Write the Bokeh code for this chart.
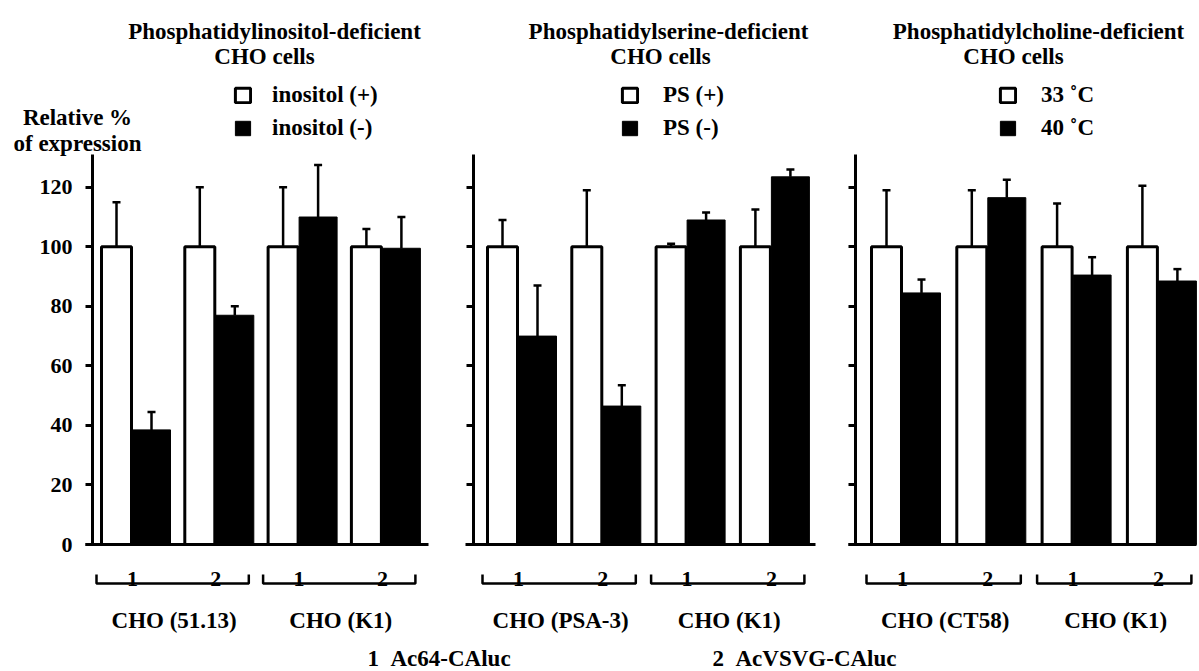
import numpy as np
from bokeh.plotting import figure
from bokeh.models import (Range1d, FixedTicker, Whisker, TeeHead, LinearAxis,
                          ColumnDataSource, Legend, LegendItem)
from bokeh.core.properties import value
from bokeh.embed import file_html
from bokeh.resources import INLINE

FONT = "Liberation Serif"

# ---------------- data ----------------
titles = [["Phosphatidylinositol-deficient", "CHO cells"],
          ["Phosphatidylserine-deficient", "CHO cells"],
          ["Phosphatidylcholine-deficient", "CHO cells"]]
legend_labels = [["inositol (+)", "inositol (-)"],
                 ["PS (+)", "PS (-)"],
                 ["33 \u02daC", "40 \u02daC"]]
groups = [["CHO (51.13)", "CHO (K1)"],
          ["CHO (PSA-3)", "CHO (K1)"],
          ["CHO (CT58)", "CHO (K1)"]]
constructs = ["1", "2", "1", "2"]
construct_names = ["1\u00a0\u00a0Ac64-CAluc", "2\u00a0\u00a0AcVSVG-CAluc"]
y_label = ["Relative %", "of expression"]
y_ticks = [0, 20, 40, 60, 80, 100, 120]

white_vals = [[100, 100, 100, 100], [100, 100, 100, 100], [100, 100, 100, 100]]
white_err_lo = [[14, 20, 18, 6], [9, 18, 1, 12.5], [18.5, 18, 14, 21]]
white_err_hi = [[15, 20, 20, 6], [9, 19, 1, 12.5], [19, 19, 14.5, 20.5]]
black_vals = [[38.5, 77, 110, 99.5], [70, 46.5, 109, 123.5], [84.5, 116.5, 90.5, 88.5]]
black_err = [[6, 3, 17.5, 10.5], [17, 7, 2.5, 2.5], [4.5, 6, 6, 4]]

# ---------------- layout (pixels) ----------------
W, H = 1199, 671
BASE_PX, TOP_PX, YMAX = 544, 154, 131
PX_PER_UNIT = (BASE_PX - TOP_PX) / YMAX


def ydat(py):
    return (BASE_PX - py) / PX_PER_UNIT


panel_origin = [132, 518, 902]       # centre of first white/black pair
panel_step = [83.3, 84.3, 85.3]      # distance between pairs
axis_x = [92, 473, 855]              # y-axis position
xaxis_span = [(85, 428), (465, 815), (848, 1196)]
title_x = [(274, 264), (668, 660), (1038, 1013)]
legend_loc = [(233, 530), (620, 530), (998, 530)]
legend_standoff = [20, 24, 24]

p = figure(width=W, height=H, x_range=Range1d(0, W), y_range=Range1d(ydat(H), ydat(0)),
           x_axis_type=None, y_axis_type=None, min_border=0,
           toolbar_location=None, output_backend="svg")
p.xgrid.visible = False
p.ygrid.visible = False
p.outline_line_color = None


def text(xs, ys, texts, size="23px", align="center"):
    p.text(x=xs, y=ys, text=texts, text_font=value(FONT), text_font_style="bold",
           text_font_size=size, text_color="black", text_align=align,
           text_baseline="alphabetic")


for k in range(3):
    centers = panel_origin[k] + panel_step[k] * np.arange(4)
    wv = np.array(white_vals[k], float)
    bv = np.array(black_vals[k], float)
    src_w = ColumnDataSource(dict(x=centers - 16, top=wv,
                                  lower=wv - np.array(white_err_lo[k]),
                                  upper=wv + np.array(white_err_hi[k])))
    src_b = ColumnDataSource(dict(x=centers + 19, top=bv, lower=bv,
                                  upper=bv + np.array(black_err[k])))
    rw = p.vbar(x="x", top="top", bottom=0, width=30, source=src_w,
                fill_color="white", line_color="black", line_width=3)
    rb = p.vbar(x="x", top="top", bottom=0, width=38, source=src_b,
                fill_color="black", line_color="black", line_width=1)

    p.add_layout(Whisker(source=src_w, base="x", lower="lower", upper="upper",
                         dimension="height", line_width=2.5, line_color="black",
                         upper_head=TeeHead(size=8, line_width=2.5, line_color="black"),
                         lower_head=TeeHead(size=8, line_width=2.5, line_color="black")))
    p.add_layout(Whisker(source=src_b, base="x", lower="lower", upper="upper",
                         dimension="height", line_width=2.5, line_color="black",
                         upper_head=TeeHead(size=8, line_width=2.5, line_color="black"),
                         lower_head=None))

    # axes
    ya = LinearAxis(fixed_location=axis_x[k], bounds=(0, YMAX),
                    ticker=FixedTicker(ticks=y_ticks))
    ya.axis_line_width = 3
    ya.major_tick_line_width = 3
    ya.major_tick_out = 7
    ya.major_tick_in = 0
    ya.minor_tick_line_color = None
    if k == 0:
        ya.major_label_text_font = FONT
        ya.major_label_text_font_style = "bold"
        ya.major_label_text_font_size = "22px"
        ya.major_label_text_color = "black"
        ya.major_label_standoff = 13
    else:
        ya.major_label_overrides = {t: "" for t in y_ticks}
        ya.major_label_standoff = 0
    p.add_layout(ya, "left")

    xa = LinearAxis(fixed_location=0, bounds=xaxis_span[k], ticker=FixedTicker(ticks=[]))
    xa.axis_line_width = 3
    xa.minor_tick_line_color = None
    xa.major_tick_line_color = None
    p.add_layout(xa, "below")

    # legend
    leg = Legend(items=[LegendItem(label=legend_labels[k][0], renderers=[rw]),
                        LegendItem(label=legend_labels[k][1], renderers=[rb])],
                 location=legend_loc[k], orientation="vertical",
                 glyph_width=19, glyph_height=18, label_standoff=legend_standoff[k],
                 spacing=7, padding=0, margin=0, label_height=24,
                 border_line_color=None, background_fill_alpha=0,
                 label_text_font=FONT, label_text_font_style="bold",
                 label_text_font_size="23px", label_text_color="black")
    p.add_layout(leg)

    # titles
    text([title_x[k][0], title_x[k][1]], [ydat(31), ydat(56)], titles[k])

    # construct numbers, brackets and cell-line labels
    text(list(centers), [ydat(578)] * 4, constructs, size="22px")
    gmid = [(centers[0] + centers[1]) / 2, (centers[2] + centers[3]) / 2]
    text(gmid, [ydat(620)] * 2, groups[k])
    yt, yb = ydat(574), ydat(583)
    bx = [[centers[0] - 36, centers[0] - 36, centers[1] + 33, centers[1] + 33],
          [centers[2] - 36, centers[2] - 36, centers[3] + 33, centers[3] + 33]]
    p.multi_line(xs=bx, ys=[[yt, yb, yb, yt]] * 2, line_color="black", line_width=2.5)

# y-axis caption
text([77, 77], [ydat(117), ydat(143)], y_label)

# construct legend at the bottom
text([367, 712], [ydat(658)] * 2, construct_names, align="left")

open("out.html", "w").write(file_html(p, INLINE))
